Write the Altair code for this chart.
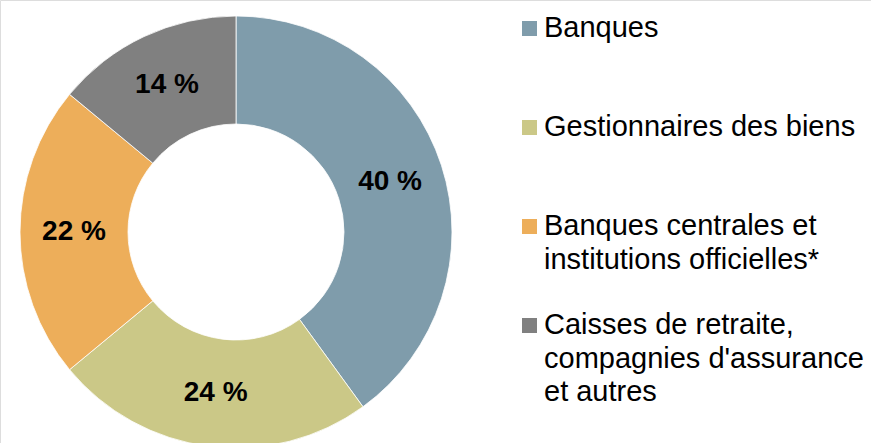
import altair as alt
import pandas as pd

categories = ["Banques", "Gestionnaires des biens", "Banques centrales et institutions officielles*",
              "Caisses de retraite, compagnies d'assurance et autres"]
legend_labels = ["Banques", "Gestionnaires des biens", "Banques centrales et\ninstitutions officielles*",
                 "Caisses de retraite,\ncompagnies d'assurance\net autres"]
values = [40, 24, 22, 14]
pct_labels = ["40 %", "24 %", "22 %", "14 %"]
colors = ["#7F9CAB", "#CBC887", "#EDAE5A", "#808080"]

df = pd.DataFrame({
    "cat": categories,
    "legend": legend_labels,
    "value": values,
    "pct": pct_labels,
    "idx": list(range(len(categories))),
})

FONT = "Liberation Sans"
color = alt.Color("cat:N", scale=alt.Scale(domain=categories, range=colors), legend=None)
theta = alt.Theta("value:Q", stack=True)
order = alt.Order("idx:Q")
cx, cy = 236, 232

arcs = alt.Chart(df).mark_arc(radius=216, radius2=108, stroke="white", strokeWidth=0.8).encode(
    theta=theta, color=color, order=order, x=alt.value(cx), y=alt.value(cy)
)
labels = alt.Chart(df).mark_text(radius=162, font=FONT, fontSize=28, fontWeight="bold",
                                 color="black", align="center", baseline="middle").encode(
    theta=theta, order=order, text="pct:N", x=alt.value(cx), y=alt.value(cy)
)

yscale = alt.Scale(type="point", domain=categories, range=[28.5, 325.5], padding=0)
leg_sq = alt.Chart(df).mark_square(size=225, opacity=1).encode(
    x=alt.value(529.5), y=alt.Y("cat:N", scale=yscale, axis=None), color=color
)
leg_txt = alt.Chart(df).mark_text(align="left", baseline="alphabetic", dy=8.5, font=FONT,
                                  fontSize=29, lineBreak="\n", lineHeight=33.5, color="black").encode(
    x=alt.value(544), y=alt.Y("cat:N", scale=yscale, axis=None), text="legend:N"
)

chart = alt.layer(arcs, labels, leg_sq, leg_txt).properties(
    width=871, height=443, padding=0, autosize=alt.AutoSizeParams(type="none")
).configure_view(stroke=None).configure(background="white")

chart.save("out.html", embed_options={"renderer": "svg", "actions": False})
